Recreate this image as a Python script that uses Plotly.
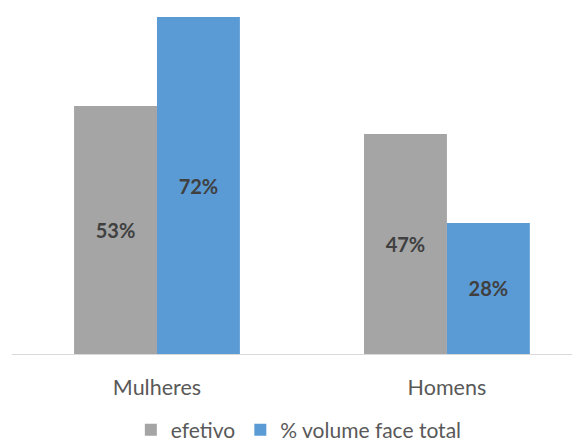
import plotly.graph_objects as go

categories = ["Mulheres", "Homens"]
efetivo = [53, 47]
volume = [72, 28]
series_names = ["efetivo", "% volume face total"]
labels_efetivo = ["53%", "47%"]
labels_volume = ["72%", "28%"]

font_family = "Lato, 'Open Sans', sans-serif"

fig = go.Figure()
fig.add_trace(go.Bar(
    x=categories, y=efetivo, name=series_names[0],
    marker=dict(color="#A5A5A5", line=dict(width=0)),
    text=labels_efetivo, textposition="inside", insidetextanchor="middle",
    textangle=0,
    textfont=dict(family=font_family, size=20, color="#404040", weight="bold"),
))
fig.add_trace(go.Bar(
    x=categories, y=volume, name=series_names[1],
    marker=dict(color="#5B9BD5", line=dict(width=0)),
    text=labels_volume, textposition="inside", insidetextanchor="middle",
    textangle=0,
    textfont=dict(family=font_family, size=20, color="#404040", weight="bold"),
))

fig.update_layout(
    width=580, height=448,
    margin=dict(l=4, r=8, t=9, b=102, autoexpand=False),
    paper_bgcolor="white", plot_bgcolor="white",
    barmode="group", bargap=0.428, bargroupgap=0,
    uniformtext=dict(mode="show", minsize=10),
    showlegend=True,
    legend=dict(orientation="h", x=0.505, xanchor="center",
                yref="container", y=0.058, yanchor="middle",
                font=dict(family=font_family, size=21, color="#595959"),
                itemwidth=30, traceorder="normal"),
    font=dict(family=font_family),
)
fig.update_xaxes(
    range=[-0.5, 1.459],
    showline=True, linecolor="#D9D9D9", linewidth=1,
    showgrid=False, ticks="", ticklabelstandoff=14,
    tickfont=dict(family=font_family, size=21.5, color="#595959"),
)
fig.update_yaxes(range=[0, 72], visible=False, showgrid=False)

fig.write_html("out.html")
